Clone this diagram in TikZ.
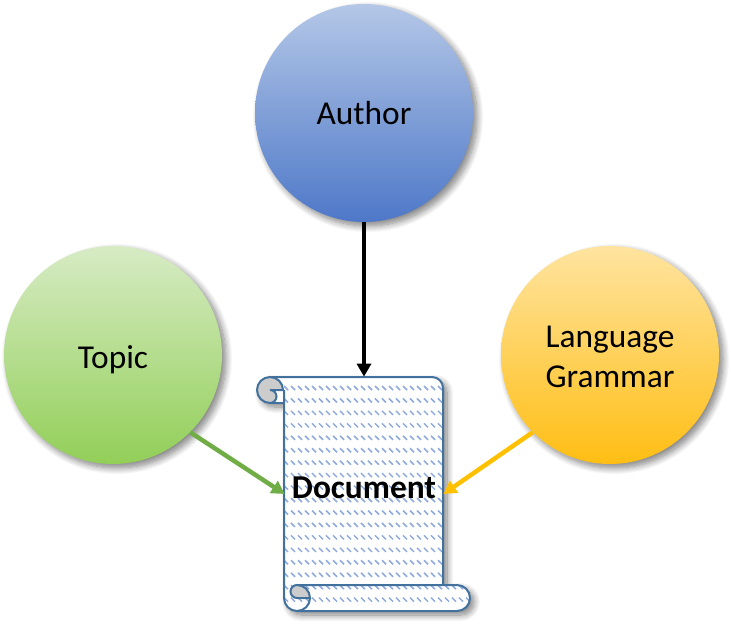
\documentclass[tikz,border=0pt]{standalone}
\usepackage{fontspec}
\setmainfont{Carlito}
\usetikzlibrary{arrows.meta, positioning, calc, shadows.blur}
\definecolor{authortop}{HTML}{B4C7E7}
\definecolor{authorbot}{HTML}{4E78C8}
\definecolor{topictop}{HTML}{D7EBC4}
\definecolor{topicbot}{HTML}{92CF58}
\definecolor{langtop}{HTML}{FFE4A0}
\definecolor{langbot}{HTML}{FFBE14}
\definecolor{scrollline}{HTML}{41719C}
\definecolor{scrolltext}{HTML}{8FAADC}
\definecolor{linkgreen}{HTML}{70AD47}
\definecolor{linkorange}{HTML}{FFC000}
\tikzset{
  softshadow/.style={blur shadow={shadow xshift=0.08cm, shadow yshift=-0.08cm, shadow blur radius=0.13cm, shadow blur steps=10, shadow opacity=50}},
  ball/.style={circle, minimum size=4.36cm, inner sep=0pt, align=center, font=\fontsize{19}{22.5}\selectfont, softshadow},
  link/.style={line width=0.09cm, -{Triangle[length=0.26cm, width=0.28cm]}},
  scrollpart/.style={draw=scrollline, line width=0.04cm},
}
\begin{document}
\begin{tikzpicture}
\useasboundingbox (0,0) rectangle (14.64,12.52);
% the three inputs
\node[ball, top color=authortop, bottom color=authorbot] (author) at (7.28,10.26) {Author};
\node[ball, top color=topictop, bottom color=topicbot] (topic) at (2.26,5.42) {\rule{0pt}{0.66cm}Topic};
\node[ball, top color=langtop, bottom color=langbot] (lang) at (12.2,5.42) {\rule{0pt}{0.5cm}Language\\Grammar};
% scroll outline
\path[fill=white, softshadow] (5.40,4.98) -- (8.64,4.98) arc[start angle=90, end angle=0, radius=0.22] -- (8.86,0.82) -- (9.14,0.82) arc[start angle=90, end angle=-90, radius=0.26] -- (5.94,0.30) arc[start angle=270, end angle=180, radius=0.26] -- (5.68,4.46) -- (5.40,4.46) arc[start angle=270, end angle=90, radius=0.26] -- cycle;
% lines of text on the sheet
\begin{scope}
\clip (5.68,4.98) -- (8.64,4.98) arc[start angle=90, end angle=0, radius=0.22] -- (8.86,0.82) -- (9.14,0.82) arc[start angle=90, end angle=-90, radius=0.26] -- (5.94,0.30) arc[start angle=270, end angle=180, radius=0.26] -- cycle;
\foreach \k in {0,...,17} {
  \pgfmathsetmacro{\rowy}{4.76-0.249*\k}
  \foreach \i in {0,...,27} {
    \draw[scrolltext, line width=0.03cm] ({5.68+0.14*\i},{\rowy+0.04}) -- +(0.08,-0.08);
  }
}
\end{scope}
\draw[scrollpart] (5.40,4.98) -- (8.64,4.98) arc[start angle=90, end angle=0, radius=0.22] -- (8.86,0.82);
\draw[scrollpart] (5.68,4.72) -- (5.68,0.56) arc[start angle=180, end angle=270, radius=0.26] -- (9.14,0.30) arc[start angle=-90, end angle=90, radius=0.26] -- (5.94,0.82);
% curls
\draw[scrollpart, fill=black!20] (5.40,4.98) arc[start angle=90, end angle=0, radius=0.26] -- (5.40,4.72) arc[start angle=90, end angle=-90, radius=0.13] arc[start angle=270, end angle=90, radius=0.26] -- cycle;
\draw[scrollpart] (5.40,4.46) -- (5.68,4.46);
\draw[scrollpart, fill=black!20] (5.94,0.56) arc[start angle=270, end angle=90, radius=0.13] arc[start angle=90, end angle=0, radius=0.26] -- cycle;
\draw[scrollpart] (6.20,0.56) arc[start angle=0, end angle=-90, radius=0.26];
% sheet and its title
\node[minimum width=3.16cm, minimum height=4.68cm, inner sep=0pt] (document) at (7.28,2.64) {};
\node[font=\fontsize{19}{22}\selectfont\bfseries] (title) at ([yshift=0.12cm]document.center) {Document};
% links
\draw[link, black] (author) -- (document.north);
\draw[link, linkgreen] (topic.south east) -- (document.west);
\draw[link, linkorange] (lang.south west) -- (document.east);
\end{tikzpicture}
\end{document}
